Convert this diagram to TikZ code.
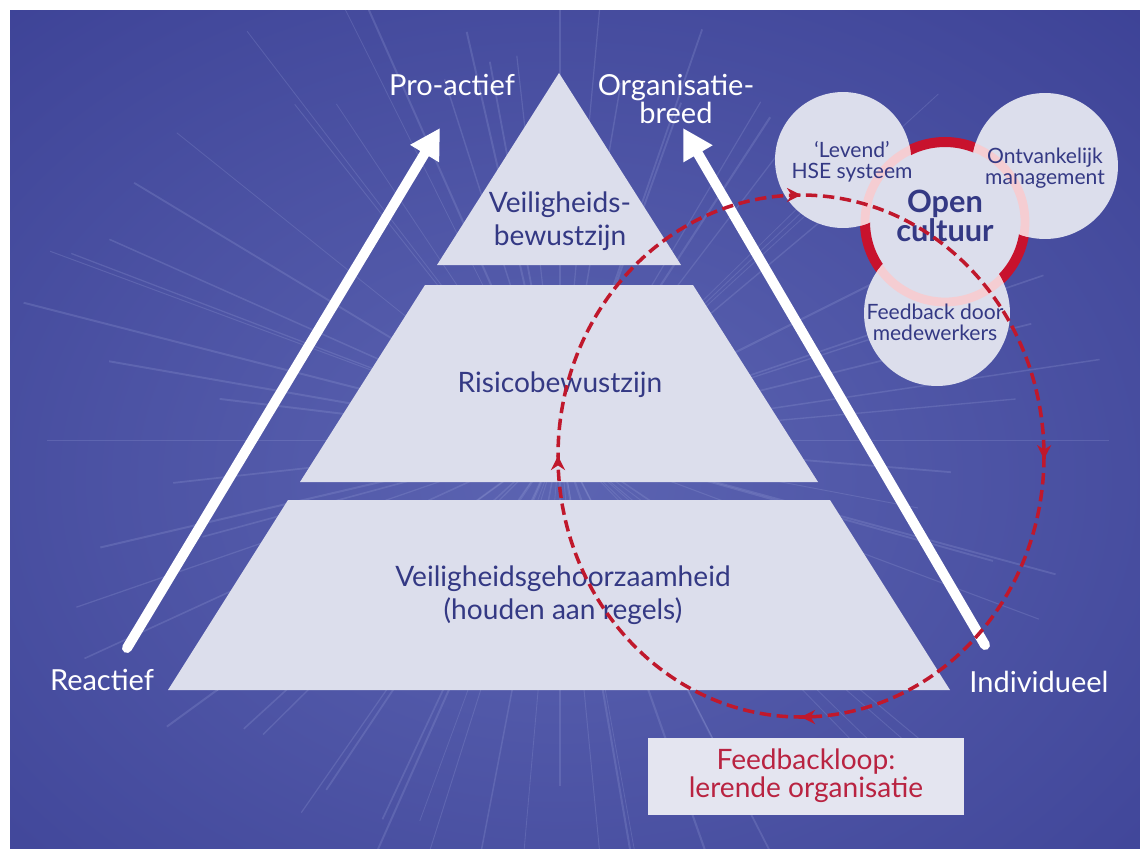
\documentclass[tikz,border=0pt]{standalone}
\usepackage{fontspec}
\setmainfont{Lato}
\usetikzlibrary{arrows.meta,decorations.markings}

\definecolor{bgblue}{RGB}{56,61,146}
\definecolor{glowblue}{RGB}{92,100,178}
\definecolor{rayblue}{RGB}{150,158,215}
\definecolor{paleblock}{RGB}{220,222,236}
\definecolor{inkblue}{RGB}{52,57,132}
\definecolor{loopred}{RGB}{192,24,44}
\definecolor{ringred}{RGB}{200,18,45}
\definecolor{ringpink}{RGB}{245,205,210}
\definecolor{boxred}{RGB}{185,35,65}
\definecolor{boxfill}{RGB}{228,229,240}

\tikzset{
  block/.style={fill=paleblock},
  blocktext/.style={text=inkblue,align=center,font=\fontsize{16}{19}\selectfont},
  sidelabel/.style={text=white,align=center,font=\fontsize{16.5}{16}\selectfont},
  bubble/.style={circle,fill=paleblock,inner sep=0pt},
  bubbletext/.style={text=inkblue,align=center,font=\fontsize{12}{12}\selectfont},
  growth/.style={white,line width=5.7pt,line cap=round,-{Triangle[length=17pt,width=18pt]}},
  ray/.style={rayblue,opacity=0.25},
  feedbackloop/.style={loopred,line width=2pt,dash pattern=on 6.5pt off 3.2pt,
    postaction={decorate},
    decoration={markings,
      mark=at position 0.002 with {\arrow{Stealth[length=8pt,width=8pt]}},
      mark=at position 0.25 with {\arrow{Stealth[length=8pt,width=8pt]}},
      mark=at position 0.5 with {\arrow{Stealth[length=8pt,width=8pt]}},
      mark=at position 0.75 with {\arrow{Stealth[length=8pt,width=8pt]}}}},
}

\begin{document}
\begin{tikzpicture}[x=0.02cm,y=-0.02cm]
	\useasboundingbox (0,0) rectangle (1140,849);
	\fill[white] (0,0) rectangle (1140,849);

	% background with a light burst in the middle
	\begin{scope}
		\clip (10,10) rectangle (1140,849);
		\fill[bgblue] (10,10) rectangle (1140,849);
		\shade[inner color=glowblue,outer color=bgblue] (560,480) ellipse [x radius=1000,y radius=760];
		\pgfmathsetseed{17}
		\foreach \a in {0,5,...,355}
			\draw[ray,line width={0.4pt+0.8pt*rnd}] (560,440) -- ++(\a:{330+230*rnd});
	\end{scope}

	% pyramid
	\fill[block] (559,73) -- (681,265) -- (437,265) -- cycle;
	\fill[block] (425,285) -- (693,285) -- (818,482) -- (300,482) -- cycle;
	\fill[block] (288,500) -- (830,500) -- (950,690) -- (168,690) -- cycle;

	\node[blocktext] (awareness) at (560,221) {Veiligheids-\\bewustzijn};
	\node[blocktext] (risk) at (560,385) {Risicobewustzijn};
	\node[blocktext] (obedience) at (563,595) {Veiligheidsgehoorzaamheid\\(houden aan regels)};

	% side arrows and their labels
	\coordinate (lefttail) at (127,648);
	\coordinate (lefttip) at (440,128);
	\coordinate (righttail) at (985,645);
	\coordinate (righttip) at (683,128);
	\draw[growth] (lefttail) -- (lefttip);
	\draw[growth] (righttail) -- (righttip);

	\node[sidelabel] (proactive) at (452,85) {Pro-actief};
	\node[sidelabel] (orgwide) at (676,99) {Organisatie-\\breed};
	\node[sidelabel] (reactive) at (102,680) {Reactief};
	\node[sidelabel] (individual) at (1039,682) {Individueel};

	% open culture cluster
	\coordinate (core) at (945,222);
	\fill[paleblock] (core) circle (80);
	\draw[ringred,line width=5.7pt] (core) circle (80);
	\node[bubble,minimum size=2.72cm] (living) at (843,160) {};
	\node[bubble,minimum size=2.92cm] (receptive) at (1045,166) {};
	\node[bubble,minimum size=2.92cm] (staff) at (937,313) {};
	\begin{scope}
		\clip (843,160) circle (68) (1045,166) circle (73) (937,313) circle (73);
		\draw[ringpink,line width=5pt] (core) circle (80);
	\end{scope}

	\node[bubbletext] at (852,162) {`Levend'\\HSE systeem};
	\node[bubbletext] at (1045,168) {Ontvankelijk\\management};
	\node[bubbletext] at (935,322) {Feedback door\\medewerkers};
	\node[text=inkblue,align=center,font=\fontsize{17.5}{15.5}\selectfont\bfseries] (openness) at (945,216) {Open\\cultuur};

	% feedback loop
	\coordinate (loopcentre) at (801,456);
	\draw[feedbackloop] (loopcentre) ellipse [x radius=243,y radius=261];

	\node[fill=boxfill,minimum width=6.34cm,minimum height=1.54cm,text=boxred,align=center,
		font=\fontsize{16}{16}\selectfont] (lessons) at (806,776) {Feedbackloop:\\lerende organisatie};
\end{tikzpicture}
\end{document}
